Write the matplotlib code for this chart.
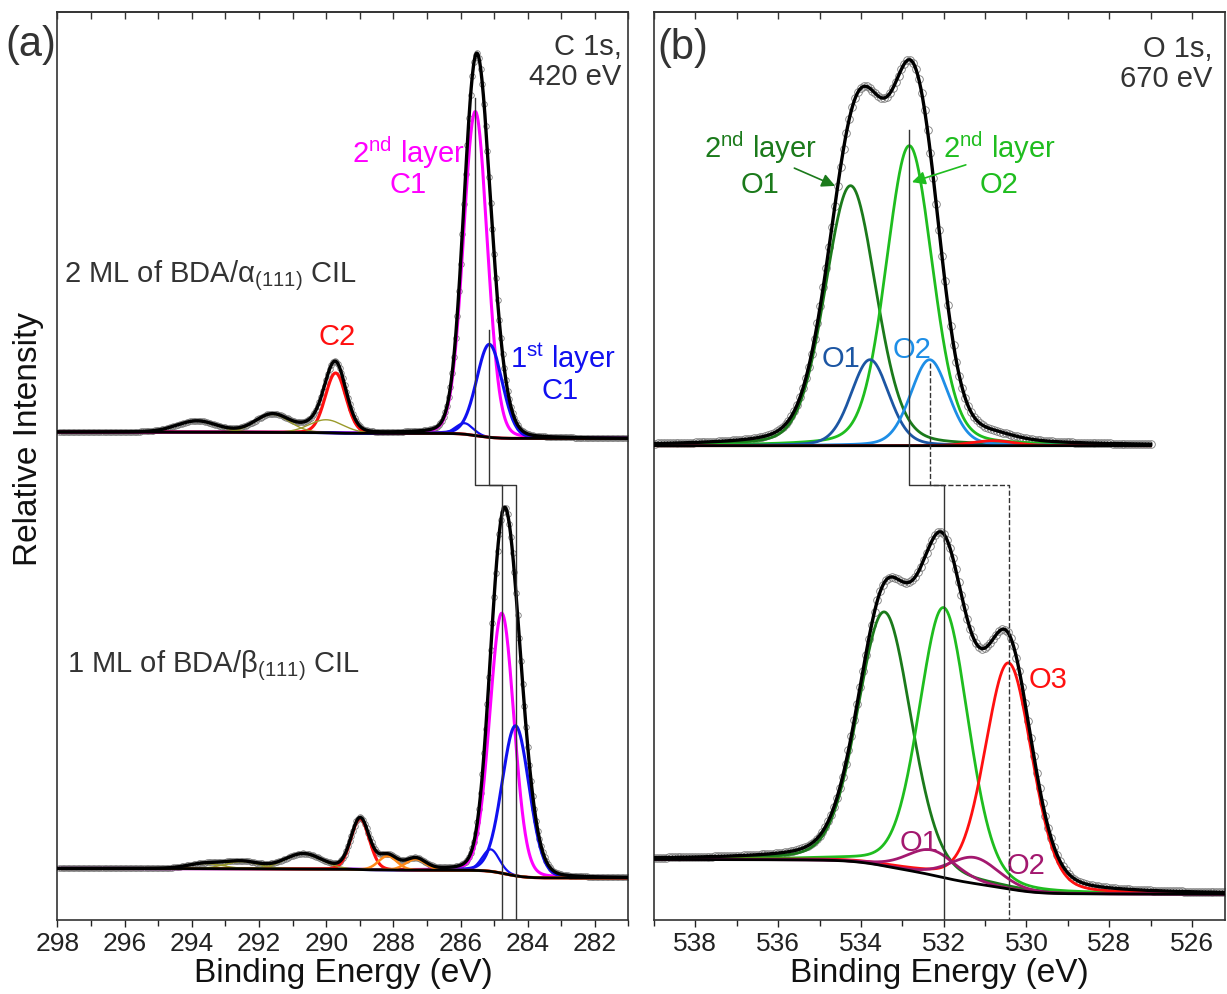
import numpy as np
import matplotlib.pyplot as plt
from matplotlib.ticker import MultipleLocator

plt.rcParams['font.family'] = ['Liberation Sans', 'DejaVu Sans']
plt.rcParams['mathtext.fontset'] = 'custom'
plt.rcParams['mathtext.rm'] = 'Liberation Sans'
plt.rcParams['mathtext.it'] = 'Liberation Sans:italic'
plt.rcParams['mathtext.default'] = 'regular'

# ---- fit components: centre (eV), height (arb. u.), FWHM (eV) ----
# C 1s, 2 ML BDA/alpha  (upper spectrum of panel a)
c2_pos  = [285.56, 285.14, 285.88, 289.72, 290.00, 291.60, 293.85]
c2_amp  = [324, 93, 11, 60, 13, 18, 11]
c2_fwhm = [0.84, 0.90, 0.60, 0.72, 1.20, 1.20, 1.40]
c2_bg   = [488.0, 481.5]          # background, high-BE / low-BE side

# C 1s, 1 ML BDA/beta  (lower spectrum of panel a)
c1_pos  = [284.77, 284.36, 285.10, 288.99, 288.17, 287.34, 290.68, 292.50, 293.60]
c1_amp  = [260, 150, 22, 51, 14, 11, 15, 7, 5]
c1_fwhm = [0.85, 0.95, 0.60, 0.64, 0.65, 0.70, 1.30, 1.20, 1.20]
c1_bg   = [51.5, 42.0]

# O 1s, 2 ML  (upper spectrum of panel b)
o2_pos  = [534.25, 532.83, 533.78, 532.34, 530.80]
o2_amp  = [260, 300, 86, 86, 5]
o2_fwhm = [1.45, 1.32, 1.08, 1.08, 1.20]
o2_bg   = [474.3, 474.3]

# O 1s, 1 ML  (lower spectrum of panel b)
o1_pos  = [533.43, 532.00, 530.43, 532.29, 531.26]
o1_amp  = [254, 270, 226, 25, 26]
o1_fwhm = [1.52, 1.40, 1.34, 1.40, 1.40]
o1_bg   = [60.5, 25.8]

# ---- styles ----
MAG, BLU, RED, OLV, ORA = '#ff00ff', '#1010f0', '#ff1010', '#9a9a2a', '#ff8a1a'
DKG, LTG, DKB, LTB, PUR = '#1b7a1b', '#1fbd1f', '#1c56a3', '#1e8ee6', '#a3186f'
c2_col = [MAG, BLU, BLU, RED, OLV, OLV, OLV]
c2_lw  = [2.2, 2.2, 1.6, 2.2, 1.0, 1.0, 1.0]
c1_col = [MAG, BLU, BLU, RED, ORA, ORA, OLV, OLV, OLV]
c1_lw  = [2.2, 2.2, 1.6, 2.2, 1.8, 1.8, 1.0, 1.0, 1.0]
o2_col = [DKG, LTG, DKB, LTB, RED]
o2_lw  = [2.0, 2.0, 2.0, 2.0, 2.0]
o1_col = [DKG, LTG, RED, PUR, PUR]
o1_lw  = [2.0, 2.0, 2.0, 2.0, 2.0]


def pvoigt(x, x0, h, w, eta):
    u = ((x - x0) / w) ** 2
    return h * ((1 - eta) * np.exp(-4 * np.log(2) * u) + eta / (1 + 4 * u))


def shirley(x, total, hi, lo):
    # x ascending; background rises towards high binding energy
    cum = np.cumsum(total)
    return lo + (hi - lo) * cum / cum[-1]


def spectrum(ax, xr, pos, amp, fwhm, bg, cols, lws, eta, step, ms):
    x = np.linspace(xr[0], xr[1], 1500)
    comps = [pvoigt(x, p, a, w, eta) for p, a, w in zip(pos, amp, fwhm)]
    total = np.sum(comps, axis=0)
    back = shirley(x, total, bg[0], bg[1])
    # measured points (sampled on the fit envelope)
    xs = np.arange(xr[0], xr[1], step)
    ys = np.interp(xs, x, total + back)
    ax.plot(xs, ys, 'o', mfc='none', mec='#7a7a7a', ms=ms, mew=0.6, zorder=1)
    for c, col, lw in zip(comps, cols, lws):
        ax.plot(x, c + back, color=col, lw=lw, zorder=2)
    ax.plot(x, back, color='black', lw=2.0, zorder=3)
    ax.plot(x, total + back, color='black', lw=2.4, zorder=3)
    return lambda e: np.interp(e, x, back)


fig = plt.figure(figsize=(12.27, 9.94), dpi=100)
axa = fig.add_axes([0.04686, 0.07445, 0.46536, 0.91348])
axb = fig.add_axes([0.53301, 0.07445, 0.46536, 0.91348])

bg_c2 = spectrum(axa, (281.0, 298.0), c2_pos, c2_amp, c2_fwhm, c2_bg, c2_col, c2_lw, 0.1, 0.05, 4.0)
bg_c1 = spectrum(axa, (281.0, 298.0), c1_pos, c1_amp, c1_fwhm, c1_bg, c1_col, c1_lw, 0.1, 0.05, 4.0)
bg_o2 = spectrum(axb, (527.0, 539.0), o2_pos, o2_amp, o2_fwhm, o2_bg, o2_col, o2_lw, 0.2, 0.07, 5.5)
bg_o1 = spectrum(axb, (525.2, 539.0), o1_pos, o1_amp, o1_fwhm, o1_bg, o1_col, o1_lw, 0.2, 0.07, 5.5)

# guide lines linking peak positions of the two spectra
y_join = 435
guides = [
    (axa, c2_pos[0], c2_amp[0] + bg_c2(c2_pos[0]) + 14, c1_pos[0], '-'),
    (axa, c2_pos[1], c2_amp[1] + bg_c2(c2_pos[1]) + 14, c1_pos[1], '-'),
    (axb, o2_pos[1], o2_amp[1] + bg_o2(o2_pos[1]) + 16, o1_pos[1], '-'),
    (axb, o2_pos[3], o2_amp[3] + bg_o2(o2_pos[3]) - 3, o1_pos[2], '--'),
]
for ax, e_top, y_top, e_bot, ls in guides:
    ax.plot([e_top, e_top, e_bot, e_bot], [y_top, y_join, y_join, 0],
            color='#333333', lw=1.0, ls=ls, zorder=5)

for ax, xl in [(axa, (298, 281)), (axb, (539, 525.2))]:
    ax.set_xlim(*xl)
    ax.set_ylim(0, 908)
    ax.set_yticks([])
    ax.xaxis.set_major_locator(MultipleLocator(2))
    ax.xaxis.set_minor_locator(MultipleLocator(1))
    ax.tick_params(axis='x', which='both', direction='out', labelsize=19,
                   colors='#222222', width=1.0, pad=4)
    ax.tick_params(axis='x', which='major', length=5)
    ax.tick_params(axis='x', which='minor', length=4)
    top = ax.secondary_xaxis('top')
    top.xaxis.set_major_locator(MultipleLocator(1))
    top.tick_params(axis='x', direction='in', length=5, width=1.0,
                    labeltop=False, colors='#333333')
    for sp in list(ax.spines.values()) + list(top.spines.values()):
        sp.set_linewidth(1.2)
        sp.set_color('#333333')
    ax.set_xlabel('Binding Energy (eV)', fontsize=24, color='#111111')
    ax.xaxis.set_label_coords(0.5, -0.042)

axa.set_ylabel('Relative Intensity', fontsize=24, color='#111111')
axa.yaxis.set_label_coords(-0.024, 0.53)

FS = 21
txt = '#333333'
# panel (a)
axa.text(281.21, 865, 'C 1s,', fontsize=FS, ha='right', va='baseline', color=txt)
axa.text(281.21, 835, '420 eV', fontsize=FS, ha='right', va='baseline', color=txt)
axa.text(297.81, 638, r'2 ML of BDA/$α_{(111)}$ CIL', fontsize=FS, ha='left', va='baseline', color=txt)
axa.text(297.73, 248, r'1 ML of BDA/$β_{(111)}$ CIL', fontsize=FS, ha='left', va='baseline', color=txt)
axa.text(287.55, 757, r'2$^{nd}$ layer', fontsize=FS, ha='center', va='baseline', color=MAG)
axa.text(287.55, 727, 'C1', fontsize=FS, ha='center', va='baseline', color=MAG)
axa.text(289.68, 575, 'C2', fontsize=FS, ha='center', va='baseline', color=RED)
axa.text(282.96, 552, r'1$^{st}$ layer', fontsize=FS, ha='center', va='baseline', color=BLU)
axa.text(283.05, 521, 'C1', fontsize=FS, ha='center', va='baseline', color=BLU)

# panel (b)
axb.text(525.5, 863, 'O 1s,', fontsize=FS, ha='right', va='baseline', color=txt)
axb.text(525.5, 833, '670 eV', fontsize=FS, ha='right', va='baseline', color=txt)
axb.text(536.44, 762, r'2$^{nd}$ layer', fontsize=FS, ha='center', va='baseline', color=DKG)
axb.text(536.44, 727, 'O1', fontsize=FS, ha='center', va='baseline', color=DKG)
axb.text(530.66, 762, r'2$^{nd}$ layer', fontsize=FS, ha='center', va='baseline', color=LTG)
axb.text(530.66, 727, 'O2', fontsize=FS, ha='center', va='baseline', color=LTG)
axb.annotate('', xy=(534.56, 733), xytext=(535.67, 753),
             arrowprops=dict(arrowstyle='-|>', color=DKG, lw=1.2, mutation_scale=20))
axb.annotate('', xy=(532.83, 737), xytext=(531.40, 756),
             arrowprops=dict(arrowstyle='-|>', color=LTG, lw=1.2, mutation_scale=20))
axb.text(534.47, 553, 'O1', fontsize=FS, ha='center', va='baseline', color=DKB)
axb.text(532.76, 562, 'O2', fontsize=FS, ha='center', va='baseline', color=LTB)
axb.text(529.47, 232, 'O3', fontsize=FS, ha='center', va='baseline', color=RED)
axb.text(532.60, 69, 'O1', fontsize=FS, ha='center', va='baseline', color=PUR)
axb.text(530.01, 46, 'O2', fontsize=FS, ha='center', va='baseline', color=PUR)

fig.text(0.0253, 0.9547, '(a)', fontsize=30, ha='center', va='center', color=txt)
fig.text(0.5566, 0.9517, '(b)', fontsize=30, ha='center', va='center', color=txt)

fig.savefig('out.png', dpi=100)
